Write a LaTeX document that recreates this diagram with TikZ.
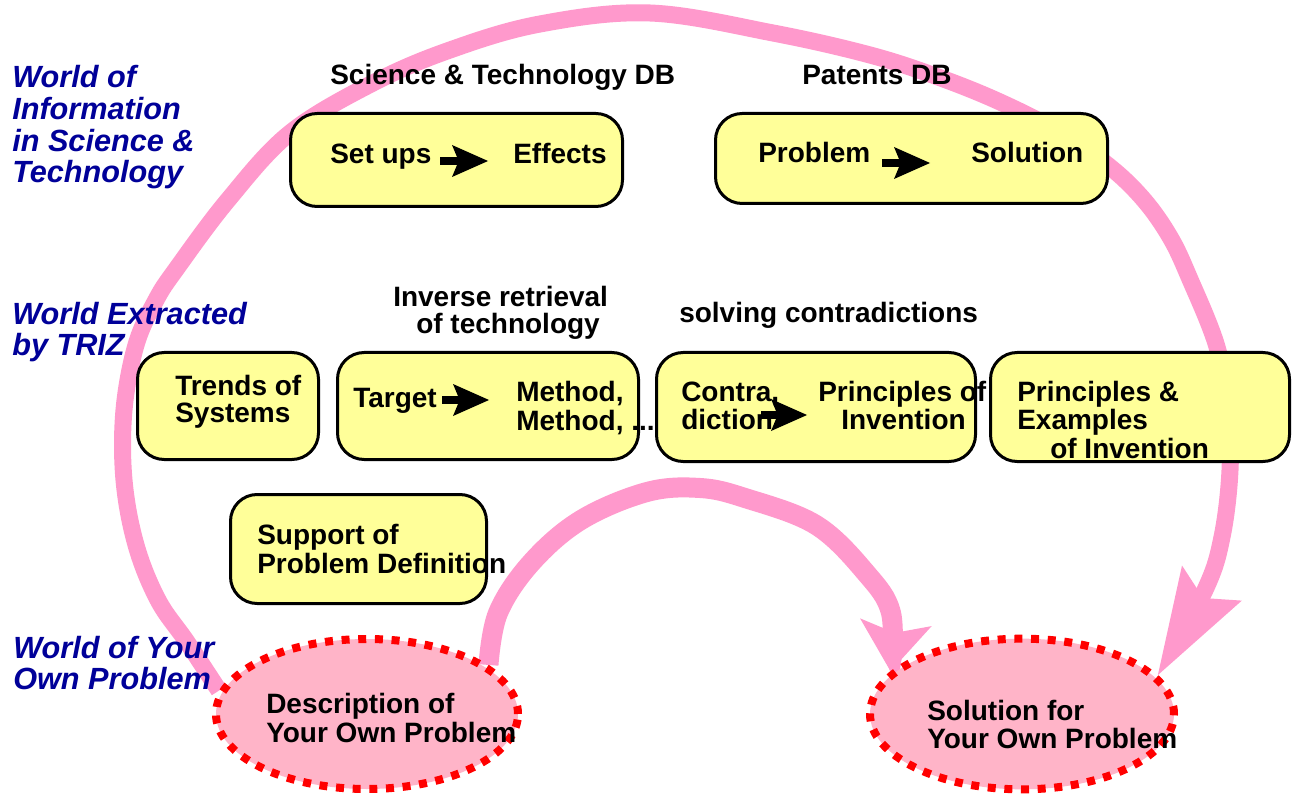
\documentclass[tikz,border=0pt]{standalone}
\usepackage{fontspec}
\setmainfont{Liberation Sans}
\usetikzlibrary{arrows.meta,shapes.geometric,backgrounds}
\definecolor{boxyellow}{RGB}{255,255,153}
\definecolor{arcpink}{RGB}{255,153,204}
\definecolor{ellpink}{RGB}{255,180,200}
\definecolor{dotred}{RGB}{255,0,0}
\definecolor{worldblue}{RGB}{0,0,153}
\begin{document}
\begin{tikzpicture}[x=0.75pt,y=-0.75pt,
  ybox/.style={draw=black, line width=2.25pt, fill=boxyellow, rounded corners=20pt, inner sep=0pt},
  goal/.style={ellipse, draw=dotred, line width=6pt, dash pattern=on 6pt off 6.5pt, fill=ellpink, inner sep=0pt},
  txt/.style={anchor=base west, inner sep=0pt, font=\fontsize{21}{21}\selectfont\bfseries},
  world/.style={anchor=base west, inner sep=0pt, text=worldblue, font=\fontsize{23}{23}\selectfont\bfseries\itshape},
  barrow/.style={line width=6pt, -{Stealth[length=27pt, width=24pt, inset=5pt, line width=0pt]}},
  bigflow/.style={draw=arcpink, line width=12.75pt, -{Stealth[length=80pt, width=52pt, inset=13pt, line width=0pt]}},
  midflow/.style={draw=arcpink, line width=15pt, -{Stealth[length=37pt, width=54pt, inset=8pt, line width=0pt]}},
]
\useasboundingbox (0,0) rectangle (1295,798);

% rounded boxes
\node[ybox, minimum width=249pt, minimum height=69.75pt] (stbox) at (456.5,160) {};
\node[ybox, minimum width=294pt, minimum height=67.5pt] (patbox) at (911.5,158.5) {};
\node[ybox, minimum width=135.75pt, minimum height=80.25pt] (trbox) at (228,406) {};
\node[ybox, minimum width=225.75pt, minimum height=80.25pt] (tgbox) at (488,406) {};
\node[ybox, minimum width=239.25pt, minimum height=81.75pt] (ctbox) at (816,407) {};
\node[ybox, minimum width=224.25pt, minimum height=81.75pt] (pebox) at (1140,407) {};
\node[ybox, minimum width=192pt, minimum height=81.75pt] (spbox) at (358.5,549) {};

% own-problem ellipses
\node[goal, minimum width=226.5pt, minimum height=112.5pt] (desc) at (367,714) {};
\node[goal, minimum width=228pt, minimum height=113pt] (sol) at (1022,714) {};

% world labels
\node[world] (wi1) at (12,88) {World of};
\node[world] (wi2) at (12,120) {Information};
\node[world] (wi3) at (12,152) {in Science \&};
\node[world] (wi4) at (12,183) {Technology};
\node[world] (we1) at (12,325) {World Extracted};
\node[world] (we2) at (12,356) {by TRIZ};
\node[world] (wo1) at (13,658) {World of Your};
\node[world] (wo2) at (13,689) {Own Problem};

% captions
\node[txt] (stdb) at (330,85) {Science \& Technology DB};
\node[txt] (patdb) at (802,85) {Patents DB};
\node[txt] (inv1) at (393,307) {Inverse retrieval};
\node[txt] (inv2) at (416,334) {of technology};
\node[txt] (solv) at (679,323) {solving contradictions};

% box texts
\node[txt] (setups) at (330,164) {Set ups};
\node[txt] (effects) at (513,164) {Effects};
\node[txt] (prob) at (758,163) {Problem};
\node[txt] (solu) at (971,163) {Solution};
\node[txt] (tr1) at (175,395) {Trends of};
\node[txt] (tr2) at (175,422) {Systems};
\node[txt] (targ) at (353,407) {Target};
\node[txt] (meth1) at (516,402) {Method,};
\node[txt] (meth2) at (516,430) {Method, ...};
\node[txt] (con1) at (681,402) {Contra,};
\node[txt] (con2) at (681,429) {diction};
\node[txt] (pin1) at (818,402) {Principles of};
\node[txt] (pin2) at (841,429) {Invention};
\node[txt] (pe1) at (1017,402) {Principles \&};
\node[txt] (pe2) at (1017,429) {Examples};
\node[txt] (pe3) at (1050,458) {of Invention};
\node[txt] (sp1) at (257,544) {Support of};
\node[txt] (sp2) at (257,573) {Problem Definition};
\node[txt] (de1) at (266,713) {Description of};
\node[txt] (de2) at (266,742) {Your Own Problem};
\node[txt] (so1) at (927,720) {Solution for};
\node[txt] (so2) at (927,748) {Your Own Problem};

% black arrows inside the boxes
\draw[barrow] ([xshift=82.5pt, yshift=2.25pt]setups.base west) -- ([xshift=-18.75pt, yshift=2.25pt]effects.base west);
\draw[barrow] ([xshift=93pt]prob.base west) -- ([xshift=-30.75pt]solu.base west);
\draw[barrow] ([xshift=66.75pt, yshift=5.25pt]targ.base west) -- ([xshift=-20.25pt, yshift=1.5pt]meth1.base west);
\draw[barrow] ([xshift=60pt, yshift=10.5pt]con2.base west) -- ([xshift=-25.5pt, yshift=10.5pt]pin2.base west);

% pink flows behind everything
\begin{pgfonlayer}{background}
\fill[white] (0,0) rectangle (1295,798);
\draw[bigflow] plot[smooth, tension=0.6] coordinates {(desc.171) (187,642) (158,600) (136,545) (124,480) (124,410) (136,345) (156,300) (177,268) (228,200) (290,133) (373,83) (450,50) (540,24) (650,13) (773,33) (870,55) (938,77) (1000,102) (1061,133) (1110,167) (1144,200) (1170,237) (1189,277) (1217,347) (1228,410) (1230,470) (1222,537) (1205,590) (sol.16)};
\draw[midflow] plot[smooth, tension=0.6] coordinates {(desc.22) (498,613) (531,563) (581,520) (647,492) (700,488) (745,498) (816,525) (866,573) (891,613) (sol.162)};
\end{pgfonlayer}
\end{tikzpicture}
\end{document}
